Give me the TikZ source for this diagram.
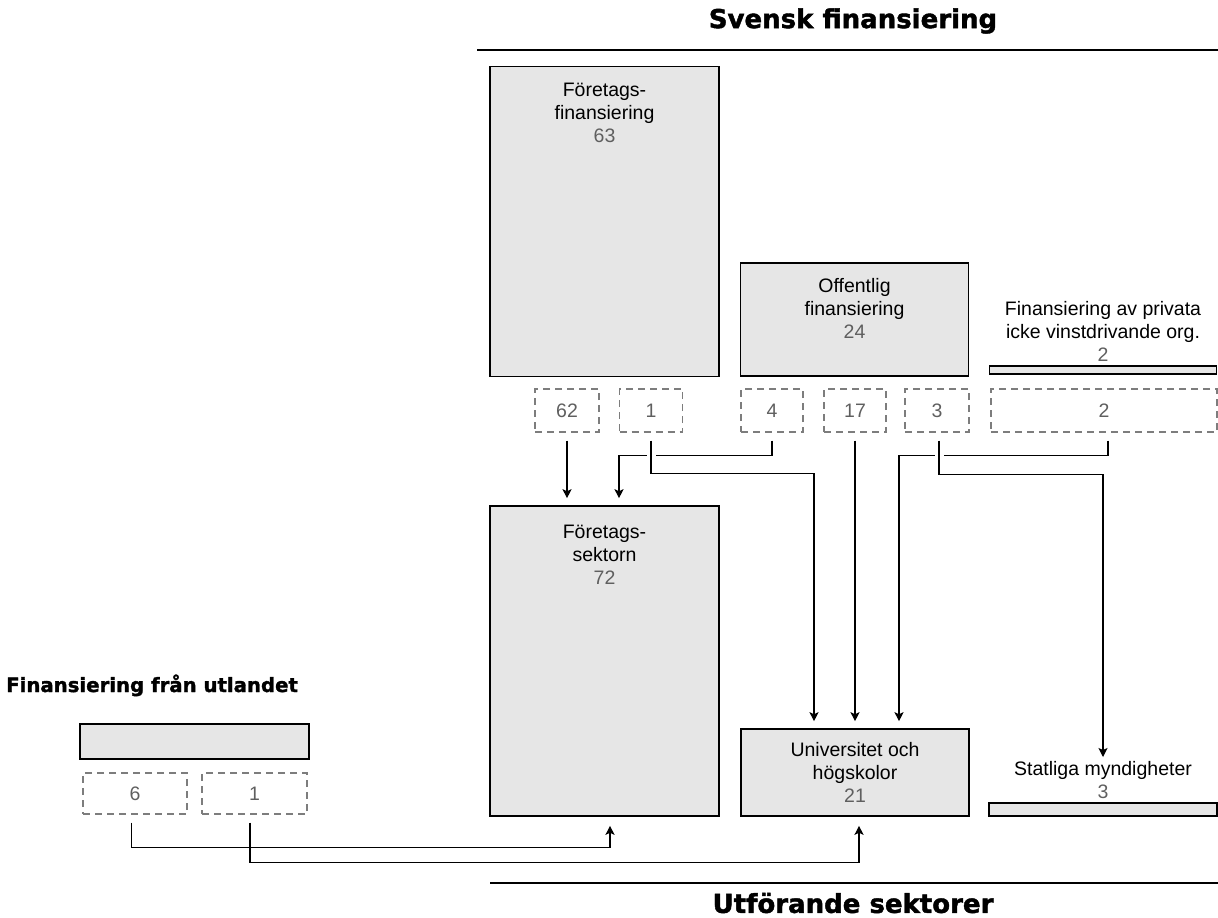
\documentclass[tikz,border=0pt]{standalone}
\usepackage{fontspec}
\setmainfont{Liberation Sans}
\newfontfamily\headfont[BoldFeatures={FakeBold=1.6}]{DejaVu Sans}
\usetikzlibrary{arrows.meta}
\definecolor{boxgray}{RGB}{230,230,230}
\definecolor{numgray}{RGB}{95,95,95}
\definecolor{dashgray}{RGB}{125,125,125}

\begin{document}
\begin{tikzpicture}[x=1pt,y=-1pt,
	box/.style={draw,line width=1.6pt,fill=boxgray,inner sep=0pt},
	part/.style={draw=dashgray,line width=1.1pt,dash pattern=on 7pt off 5pt,minimum height=43pt,inner sep=0pt,text=numgray,font=\fontsize{19.5}{23}\selectfont},
	txt/.style={font=\fontsize{19.5}{23}\selectfont,align=center},
	head/.style={font=\headfont\bfseries\fontsize{26}{30}\selectfont,inner sep=0pt},
	flow/.style={line width=1.3pt,-{Stealth[length=9pt,width=9pt,inset=2pt]},shorten >=7pt},
	gap/.style={preaction={draw=white,line width=9pt,-}}]
	\useasboundingbox (0,0) rectangle (1218,918);

	% rubriker
	\node[head] (svhead) at (853,21) {Svensk finansiering};
	\draw[line width=1.8pt] (477,50) -- (1218,50);
	\node[head,font=\headfont\bfseries\fontsize{19.7}{24}\selectfont,anchor=base west] (uthead) at (6,692) {Finansiering från utlandet};
	\draw[line width=1.8pt] (490,883) -- (1218,883);
	\node[head] (sekhead) at (853,903) {Utförande sektorer};

	% finansiering
	\node[box,minimum width=229pt,minimum height=310pt,label={[txt,anchor=north,yshift=-14pt]north:{Företags-\\finansiering\\\textcolor{numgray}{63}}}] (fin) at (604.5,221.5) {};
	\node[box,minimum width=228pt,minimum height=113pt,label={[txt,anchor=north,yshift=-12.5pt]north:{Offentlig\\finansiering\\\textcolor{numgray}{24}}}] (off) at (854.5,319.5) {};
	\node[box,line width=1.2pt,minimum width=227pt,minimum height=8pt,label={[txt]north:{Finansiering av privata\\icke vinstdrivande org.\\\textcolor{numgray}{2}}}] (priv) at (1103,370) {};
	\node[box,minimum width=229pt,minimum height=35pt] (utl) at (194.5,741.5) {};

	% delflöden
	\node[part,minimum width=64pt] (d62) at (567,410.5) {62};
	\node[part,minimum width=63pt] (d1f) at (651,410.5) {1};
	\node[part,minimum width=62pt] (d4) at (772,410.5) {4};
	\node[part,minimum width=62pt] (d17) at (855,410.5) {17};
	\node[part,minimum width=64pt] (d3o) at (937,410.5) {3};
	\node[part,minimum width=226pt] (d2p) at (1104,410.5) {2};
	\node[part,minimum width=104pt,minimum height=41pt] (d6) at (135,793.5) {6};
	\node[part,minimum width=105pt,minimum height=41pt] (d1u) at (254.5,793.5) {1};

	% utförande sektorer
	\node[box,minimum width=229pt,minimum height=310pt,label={[txt,anchor=north,yshift=-16pt]north:{Företags-\\sektorn\\\textcolor{numgray}{72}}}] (sek) at (604.5,661) {};
	\node[box,minimum width=228pt,minimum height=87pt,txt] (uni) at (855,772.5) {Universitet och\\högskolor\\\textcolor{numgray}{21}};
	\node[box,line width=1.2pt,minimum width=228pt,minimum height=13pt,label={[txt,name=statlbl]north:{Statliga myndigheter\\\textcolor{numgray}{3}}}] (stat) at (1103,809.5) {};

	% flöden
	\draw[flow] ([yshift=-8pt]d62.south) -- (d62.south |- sek.north);
	\draw[flow] ([yshift=-8pt]d4.south) -- ++(0,15) -| ([xshift=14.5pt]sek.north);
	\draw[flow] ([xshift=4pt,yshift=-8pt]d2p.south) -- ++(0,15) -| ([xshift=44pt]uni.north);
	\draw[flow,gap] ([yshift=-8pt]d1f.south) -- ++(0,33) -| ([xshift=-41pt]uni.north);
	\draw[flow] ([yshift=-8pt]d17.south) -- (d17.south |- uni.north);
	\draw[flow,gap,shorten >=1pt] ([xshift=2pt,yshift=-8pt]d3o.south) -- ++(0,34) -| (statlbl.north);
	\draw[flow,shorten >=9pt] ([xshift=-3.5pt,yshift=-8pt]d6.south) -- ++(0,25) -| ([xshift=5.5pt]sek.south);
	\draw[flow,shorten >=9pt] ([xshift=-4.5pt,yshift=-8pt]d1u.south) -- ++(0,40) -| ([xshift=4pt]uni.south);
\end{tikzpicture}
\end{document}
